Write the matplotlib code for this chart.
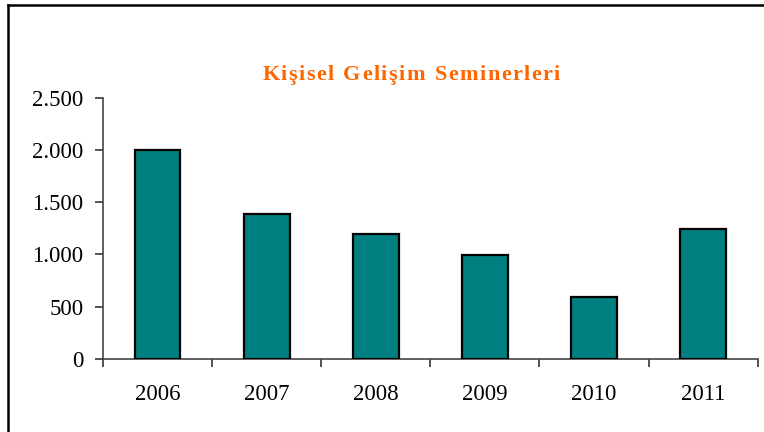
import numpy as np
import matplotlib.pyplot as plt
from matplotlib.lines import Line2D
from matplotlib.ticker import FuncFormatter, FixedLocator

years = ['2006', '2007', '2008', '2009', '2010', '2011']
seminars = [2000, 1390, 1200, 990, 590, 1240]
title = 'Kişisel Gelişim Seminerleri'

plt.rcParams['font.family'] = ['Liberation Serif', 'DejaVu Serif']


def thousands(v, pos):
    return f'{int(v):,}'.replace(',', '.')


def spaced_title(fig, text, xc, yc, tracking_px, **kw):
    # lay the title out letter by letter to get wider tracking
    renderer = fig.canvas.get_renderer()
    widths = []
    for ch in text:
        t = fig.text(0, 0, ch if ch != ' ' else 'n', **kw)
        widths.append(t.get_window_extent(renderer).width * (0.55 if ch == ' ' else 1.0))
        t.remove()
    total = sum(widths) + tracking_px * (len(text) - 1)
    W = fig.get_figwidth() * fig.dpi
    x = xc * W - total / 2
    for ch, w in zip(text, widths):
        if ch != ' ':
            fig.text(x / W, yc, ch, ha='left', va='center', **kw)
        x += w + tracking_px


def plot_seminars():
    fig = plt.figure(figsize=(7.64, 4.32), dpi=100)
    ax = fig.add_axes([0.1348, 0.169, 0.857, 0.605])

    x = np.arange(len(years))
    ax.bar(x, seminars, width=0.42, color='#008080', edgecolor='black', linewidth=1.6, zorder=3)

    ax.set_xlim(-0.5, len(years) - 0.5)
    ax.set_ylim(0, 2500)
    ax.set_yticks(np.arange(0, 2501, 500))
    ax.yaxis.set_major_formatter(FuncFormatter(thousands))

    # tick marks sit between the categories, labels in the middle
    ax.xaxis.set_major_locator(FixedLocator(np.arange(-0.5, len(years), 1.0)))
    ax.xaxis.set_major_formatter(FuncFormatter(lambda v, p: ''))
    ax.set_xticks(x, minor=True)
    ax.set_xticklabels(years, minor=True)
    ax.tick_params(axis='x', which='minor', length=0, pad=18, labelsize=16.5)
    ax.tick_params(axis='x', which='major', length=6, width=1.2, color='#333333')
    ax.tick_params(axis='y', length=6, width=1.2, color='#333333', labelsize=16.5, pad=8)

    for side in ['top', 'right']:
        ax.spines[side].set_visible(False)
    for side in ['left', 'bottom']:
        ax.spines[side].set_color('#444444')
        ax.spines[side].set_linewidth(1.2)

    spaced_title(fig, title, 0.538, 0.826, 1.4,
                 color='#FF6600', fontsize=16, fontweight='bold')

    # outer frame, only top and left edges fall inside the image
    fig.add_artist(Line2D([0.0105, 1.0], [0.988, 0.988], color='black', linewidth=1.8))
    fig.add_artist(Line2D([0.0105, 0.0105], [0.0, 0.988], color='black', linewidth=1.8))

    fig.savefig('out.png', dpi=100)


if __name__ == '__main__':
    plot_seminars()
